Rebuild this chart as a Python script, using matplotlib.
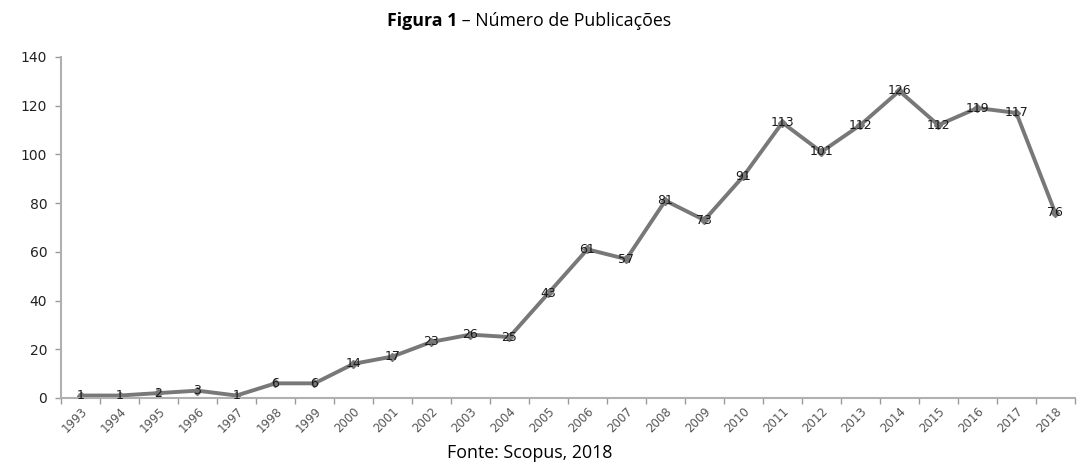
import matplotlib
matplotlib.use("Agg")
import matplotlib.pyplot as plt
from matplotlib.ticker import FixedLocator

YEARS = [str(y) for y in range(1993, 2019)]
PUBLICATIONS = [1, 1, 2, 3, 1, 6, 6, 14, 17, 23, 26, 25, 43, 61, 57,
                81, 73, 91, 113, 101, 112, 126, 112, 119, 117, 76]
Y_TICKS = [0, 20, 40, 60, 80, 100, 120, 140]

TITLE_BOLD = "Figura 1"
TITLE_REST = " – Número de Publicações"
SOURCE = "Fonte: Scopus, 2018"

plt.rcParams["font.family"] = ["Open Sans", "DejaVu Sans"]

fig = plt.figure(figsize=(10.78, 4.66), dpi=100)
ax = fig.add_axes([0.0566, 0.146, 0.9404, 0.732])

x = list(range(len(YEARS)))
ax.plot(x, PUBLICATIONS, color="#787878", linewidth=2.8, marker="D",
        markersize=4, markerfacecolor="#787878", markeredgecolor="#787878")
for xi, v in zip(x, PUBLICATIONS):
    ax.text(xi, v, str(v), ha="center", va="center", fontsize=9,
            color="#1a1a1a", family=["DejaVu Sans"])

ax.set_xlim(-0.5, len(YEARS) - 0.5)
ax.set_ylim(0, 140)
ax.set_yticks(Y_TICKS)
ax.set_xticks(x)
ax.set_xticklabels(YEARS, rotation=45, ha="right", rotation_mode="anchor",
                   fontsize=8.5, color="#555555", family=["DejaVu Sans"])
ax.xaxis.set_minor_locator(FixedLocator([i - 0.5 for i in range(len(YEARS) + 1)]))
ax.tick_params(axis="x", which="major", length=0, pad=5)
ax.tick_params(axis="x", which="minor", length=4, color="#999999", width=1)
ax.tick_params(axis="y", length=4, color="#999999", width=1, labelsize=10,
               labelcolor="#222222", pad=6)
for label in ax.get_yticklabels():
    label.set_family(["DejaVu Sans"])

for side in ("top", "right"):
    ax.spines[side].set_visible(False)
ax.spines["left"].set_color("#b0b0b0")
ax.spines["left"].set_linewidth(1.5)
ax.spines["bottom"].set_color("#b0b0b0")
ax.spines["bottom"].set_linewidth(1.5)

# title with bold prefix, centred as a whole
fig.canvas.draw()
renderer = fig.canvas.get_renderer()
t1 = fig.text(0, 0.955, TITLE_BOLD, fontsize=12.8, fontweight="bold", va="center")
t2 = fig.text(0, 0.955, TITLE_REST, fontsize=12.8, va="center")
w1 = t1.get_window_extent(renderer).width / fig.bbox.width
w2 = t2.get_window_extent(renderer).width / fig.bbox.width
start = 529 / 1078 - (w1 + w2) / 2
t1.set_x(start)
t2.set_x(start + w1)

fig.text(530 / 1078, 0.028, SOURCE, fontsize=12.8, ha="center", va="center")

fig.savefig("out.png", dpi=100)
